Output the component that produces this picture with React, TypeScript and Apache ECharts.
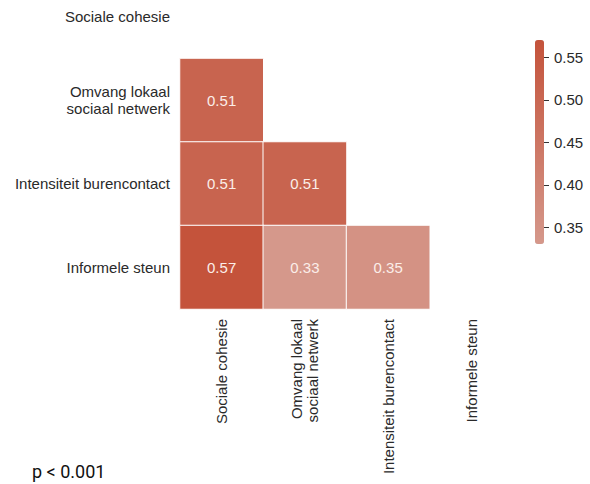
import React, { useEffect, useRef } from "react";
import * as echarts from "echarts";

const categories = ["Sociale cohesie", "Omvang lokaal\nsociaal netwerk", "Intensiteit burencontact", "Informele steun"];
// lower triangle only: column index, row index, value
const cellCols = [0, 0, 1, 0, 1, 2];
const cellRows = [1, 2, 2, 3, 3, 3];
const cellValues = [0.51, 0.51, 0.51, 0.57, 0.33, 0.35];
const colorbarTicks = [0.35, 0.4, 0.45, 0.5, 0.55];
const colorMin = 0.33;
const colorMax = 0.57;
const note = "p < 0.001";

const SHIFT = 25; // the reference crops the top of the first row

export default function App() {
  const ref = useRef<HTMLDivElement>(null);
  useEffect(() => {
    const chart = echarts.init(ref.current!, null, { renderer: "svg" });
    const data = cellValues.map((v, i) => [cellCols[i], cellRows[i], v]);
    const font = "Liberation Sans, Arial, sans-serif";
    const textColor = "#2a2a2a";
    chart.setOption({
      animation: false,
      backgroundColor: "#ffffff",
      title: {
        text: note,
        left: 32,
        top: 462 + SHIFT,
        padding: 0,
        textStyle: { fontFamily: "Roboto", fontSize: 18, fontWeight: "normal", color: "#111" },
      },
      grid: [
        { left: 180, top: 0, width: 333, height: 334, containLabel: false },
        { left: 535, top: 40 + SHIFT, width: 9, height: 204, containLabel: false },
      ],
      xAxis: [
        {
          type: "category",
          gridIndex: 0,
          data: categories,
          axisLine: { show: false },
          axisTick: { show: false },
          splitLine: { show: false },
          axisLabel: { rotate: 90, margin: 10, fontSize: 15, fontFamily: font, color: textColor, interval: 0, lineHeight: 16 },
        },
        { type: "value", gridIndex: 1, show: false, min: 0, max: 1 },
      ],
      yAxis: [
        {
          type: "category",
          gridIndex: 0,
          data: categories,
          inverse: true,
          axisLine: { show: false },
          axisTick: { show: false },
          splitLine: { show: false },
          axisLabel: { margin: 10, fontSize: 15, fontFamily: font, color: textColor, interval: 0, lineHeight: 17 },
        },
        {
          type: "value",
          gridIndex: 1,
          position: "right",
          min: colorMin,
          max: colorMax,
          axisLine: { show: false },
          splitLine: { show: false },
          axisTick: { show: false },
          axisLabel: {
            margin: 10,
            fontSize: 15,
            fontFamily: font,
            color: textColor,
            customValues: colorbarTicks,
            formatter: (v: number) => v.toFixed(2),
          },
        },
      ],
      visualMap: {
        type: "continuous",
        min: colorMin,
        max: colorMax,
        seriesIndex: 0,
        calculable: false,
        orient: "vertical",
        left: 535,
        top: 40 + SHIFT,
        itemWidth: 9,
        itemHeight: 204,
        padding: 0,
        text: ["", ""],
        showLabel: false,
        inRange: { color: ["#d5988b", "#c4533b"] },
      },
      series: [
        {
          type: "heatmap",
          xAxisIndex: 0,
          yAxisIndex: 0,
          data,
          itemStyle: { borderColor: "#ffffff", borderWidth: 1 },
          label: {
            show: true,
            color: "#fbeee9",
            fontSize: 15,
            fontFamily: font,
            formatter: (p: any) => p.value[2].toFixed(2),
          },
          emphasis: { disabled: true },
        },
        {
          type: "custom",
          xAxisIndex: 1,
          yAxisIndex: 1,
          data: colorbarTicks.map((v) => [1, v]),
          clip: false,
          silent: true,
          z: 10,
          renderItem: (params: any, api: any) => {
            const p = api.coord([1, api.value(1)]);
            const y = Math.round(p[1]) + 0.5;
            return {
              type: "line",
              shape: { x1: p[0], y1: y, x2: p[0] + 5, y2: y },
              style: { stroke: "#333", lineWidth: 1 },
            };
          },
        },
      ],
    });
    return () => chart.dispose();
  }, []);
  return <div ref={ref} style={{ position: "fixed", left: 0, top: -SHIFT, width: 590, height: 484 + SHIFT }} />;
}
